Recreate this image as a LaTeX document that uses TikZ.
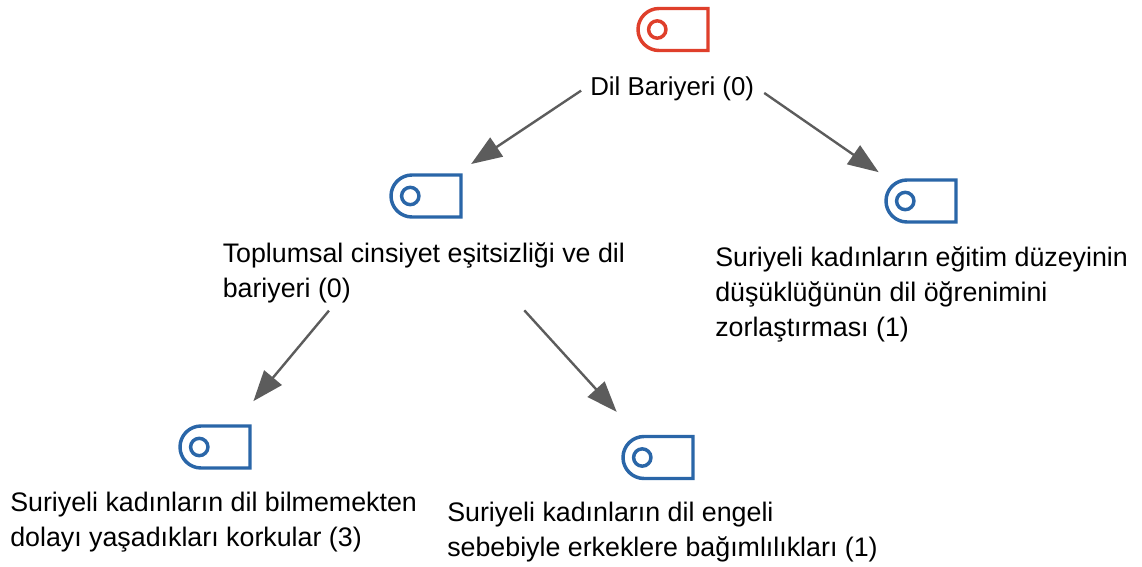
\documentclass[tikz,border=0pt]{standalone}
\usepackage{fontspec}
\setmainfont{Liberation Sans}
\usetikzlibrary{arrows.meta,shapes.misc}
\definecolor{ikonred}{HTML}{DF3F2B}
\definecolor{ikonblue}{HTML}{2A66A8}
\definecolor{okgray}{HTML}{5C5C5C}
\tikzset{
  ikon/.style={rounded rectangle,rounded rectangle right arc=none,draw=#1,line width=2.6pt,
    minimum width=52.5pt,minimum height=31.5pt,inner sep=0pt},
  halka/.style={circle,draw=#1,line width=2.6pt,minimum size=13pt,inner sep=0pt},
  metin/.style={align=left,inner sep=0pt,anchor=west,font=\fontsize{20.1}{26.3}\selectfont},
  ok/.style={draw=okgray,line width=1.8pt,-{Triangle[length=23pt,width=17pt]}}
}
\begin{document}
\begin{tikzpicture}[x=0.75pt,y=-0.75pt]
  \useasboundingbox (0,0) rectangle (1142,567);
  % Dil bariyeri (kok)
  \node[ikon=ikonred] (ikon0) at (673,29.5) {};
  \node[halka=ikonred] (halka0) at ([xshift=15.75pt]ikon0.west) {};
  \node[metin,font=\fontsize{19.4}{26.3}\selectfont] (dil) at (590,89) {Dil Bariyeri (0)};
  % Ikinci duzey
  \node[ikon=ikonblue] (ikon1) at (426,196) {};
  \node[halka=ikonblue] (halka1) at ([xshift=15.75pt]ikon1.west) {};
  \node[metin] (cinsiyet) at (222.5,272.5) {Toplumsal cinsiyet eşitsizliği ve dil\\bariyeri (0)};
  \node[ikon=ikonblue] (ikon2) at (921,201) {};
  \node[halka=ikonblue] (halka2) at ([xshift=15.75pt]ikon2.west) {};
  \node[metin] (egitim) at (715,294.5) {Suriyeli kadınların eğitim düzeyinin\\düşüklüğünün dil öğrenimini\\zorlaştırması (1)};
  % Alt duzey
  \node[ikon=ikonblue] (ikon3) at (215,447) {};
  \node[halka=ikonblue] (halka3) at ([xshift=15.75pt]ikon3.west) {};
  \node[metin] (korku) at (10,522) {Suriyeli kadınların dil bilmemekten\\dolayı yaşadıkları korkular (3)};
  \node[ikon=ikonblue] (ikon4) at (658,457.5) {};
  \node[halka=ikonblue] (halka4) at ([xshift=15.75pt]ikon4.west) {};
  \node[metin] (engel) at (447,532.5) {Suriyeli kadınların dil engeli\\sebebiyle erkeklere bağımlılıkları (1)};
  % Oklar
  \draw[ok,shorten <=8pt,shorten >=12.5pt] (dil.177) -- (ikon1.36);
  \draw[ok,shorten <=9pt,shorten >=13.7pt] (dil.2) -- (ikon2.146);
  \draw[ok,shorten <=7.5pt,shorten >=22.6pt] (cinsiyet.199) -- (ikon3.50);
  \draw[ok,shorten <=7.5pt,shorten >=24pt] (cinsiyet.-18) -- (ikon4.132);
\end{tikzpicture}
\end{document}
